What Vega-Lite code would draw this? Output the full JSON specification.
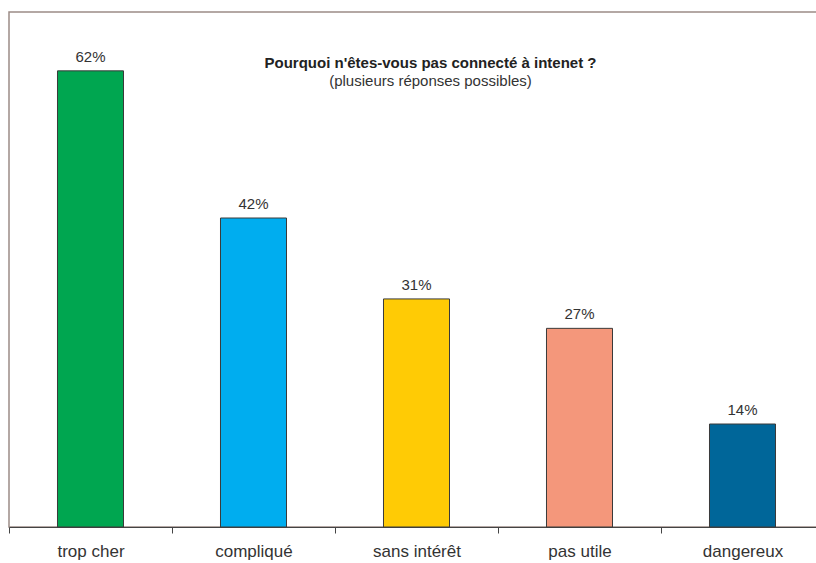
{
  "$schema": "https://vega.github.io/schema/vega-lite/v6.json",
  "autosize": {"type": "none"},
  "padding": {"left": 9, "top": 12, "right": 0, "bottom": 36},
  "width": 815,
  "height": 515,
  "background": "white",
  "config": {
    "view": {"stroke": "#9c8c86", "strokeWidth": 1.5},
    "font": "Liberation Sans"
  },
  "title": {
    "text": "Pourquoi n'êtes-vous pas connecté à intenet ?",
    "subtitle": "(plusieurs réponses possibles)",
    "orient": "top",
    "anchor": "middle",
    "frame": "group",
    "baseline": "top",
    "offset": -77,
    "dx": 14,
    "fontSize": 15,
    "fontWeight": "bold",
    "color": "#222222",
    "subtitleFontSize": 15,
    "subtitleColor": "#333333",
    "subtitlePadding": 3
  },
  "data": {
    "values": [
      {"raison": "trop cher", "pct": 62, "label": "62%"},
      {"raison": "compliqué", "pct": 42, "label": "42%"},
      {"raison": "sans intérêt", "pct": 31, "label": "31%"},
      {"raison": "pas utile", "pct": 27, "label": "27%"},
      {"raison": "dangereux", "pct": 14, "label": "14%"}
    ]
  },
  "encoding": {
    "x": {
      "field": "raison",
      "type": "nominal",
      "sort": null,
      "scale": {"paddingInner": 0, "paddingOuter": 0},
      "axis": {
        "title": null,
        "labelAngle": 0,
        "labelFontSize": 17,
        "labelColor": "#333333",
        "labelPadding": 10,
        "domainColor": "#444444",
        "domainWidth": 1.2,
        "tickColor": "#444444",
        "tickSize": 6,
        "tickBand": "extent",
        "grid": false
      }
    },
    "y": {
      "field": "pct",
      "type": "quantitative",
      "scale": {"domain": [0, 70], "nice": false},
      "axis": null
    }
  },
  "layer": [
    {
      "mark": {"type": "bar", "width": {"band": 0.405}, "stroke": "#3a3a3a", "strokeWidth": 1},
      "encoding": {
        "color": {
          "field": "raison",
          "type": "nominal",
          "sort": null,
          "scale": {
            "domain": ["trop cher", "compliqué", "sans intérêt", "pas utile", "dangereux"],
            "range": ["#00a650", "#00adef", "#ffcb05", "#f4977b", "#006699"]
          },
          "legend": null
        }
      }
    },
    {
      "mark": {"type": "text", "dy": -6, "fontSize": 15, "color": "#333333", "baseline": "bottom"},
      "encoding": {"text": {"field": "label"}}
    }
  ]
}
